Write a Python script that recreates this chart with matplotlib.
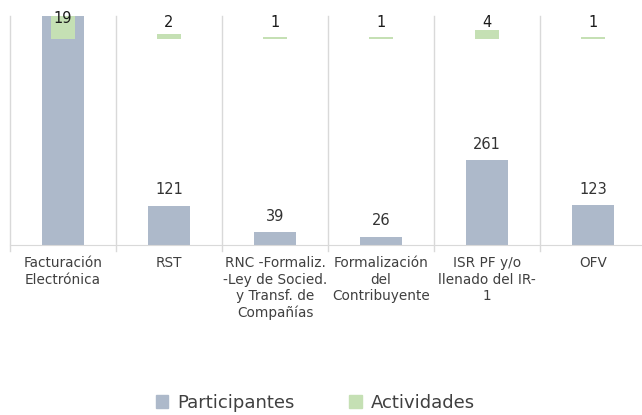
import matplotlib
matplotlib.use("Agg")
import matplotlib.pyplot as plt
from matplotlib.patches import Patch

categories = ["Facturación\nElectrónica", "RST",
              "RNC -Formaliz.\n-Ley de Socied.\ny Transf. de\nCompañías",
              "Formalización\ndel\nContribuyente",
              "ISR PF y/o\nllenado del IR-\n1", "OFV"]
participantes = [800, 121, 39, 26, 261, 123]
actividades = [19, 2, 1, 1, 4, 1]

blue = "#ADB9CA"
green = "#C5E0B4"
sep = "#D9D9D9"
txt = "#404040"

W, H = 642, 415
fig = plt.figure(figsize=(W / 100, H / 100), dpi=100)
left, right, top, bottom = 10, 646, 16, 245
ax = fig.add_axes([left / W, 1 - bottom / H, (right - left) / W, (bottom - top) / H])
ax2 = ax.twinx()

n = len(categories)
x = list(range(n))
ax.bar(x, participantes, width=0.4, color=blue, zorder=2)
ax.set_ylim(0, 705)
ax.set_xlim(-0.5, n - 0.5)

ax2.bar(x, actividades, width=0.22, color=green, zorder=2)
ax2.set_ylim(-91.6, 10.2)

for a in (ax, ax2):
    for s in a.spines.values():
        s.set_visible(False)
    a.set_yticks([])
ax.spines["bottom"].set_visible(True)
ax.spines["bottom"].set_color(sep)

# category separators
for i in range(n + 1):
    ax.axvline(i - 0.5, color=sep, lw=1, zorder=1, clip_on=False, ymin=-0.025)

ax.set_xticks(x)
ax.set_xticklabels(categories, fontsize=9.8, color=txt, linespacing=1.22)
ax.tick_params(axis="x", length=0, pad=8)

ylim = ax.get_ylim()[1]
for i, v in enumerate(participantes):
    if v < ylim:
        ax.annotate(str(v), (i, v), xytext=(0, 11.5), textcoords="offset points",
                    ha="center", va="center", fontsize=10.5, color="#333333", zorder=5,
                    fontweight="medium")

a2top = ax2.get_ylim()[1]
for i, v in enumerate(actividades):
    yy = 0.97 if v < a2top else 0.99
    ax2.annotate(str(v), (i, yy), xycoords=("data", "axes fraction"),
                 ha="center", va="center", fontsize=10.5, color="#1a1a1a",
                 zorder=5, annotation_clip=False)

handles = [Patch(color=blue, label="Participantes"), Patch(color=green, label="Actividades")]
fig.legend(handles=handles, loc="center", bbox_to_anchor=(0.491, 1 - 403 / H), ncol=2,
           frameon=False, fontsize=13, handlelength=0.7, handleheight=0.7,
           handletextpad=0.5, columnspacing=3.0, labelcolor=txt)

fig.savefig("out.png", dpi=100)
